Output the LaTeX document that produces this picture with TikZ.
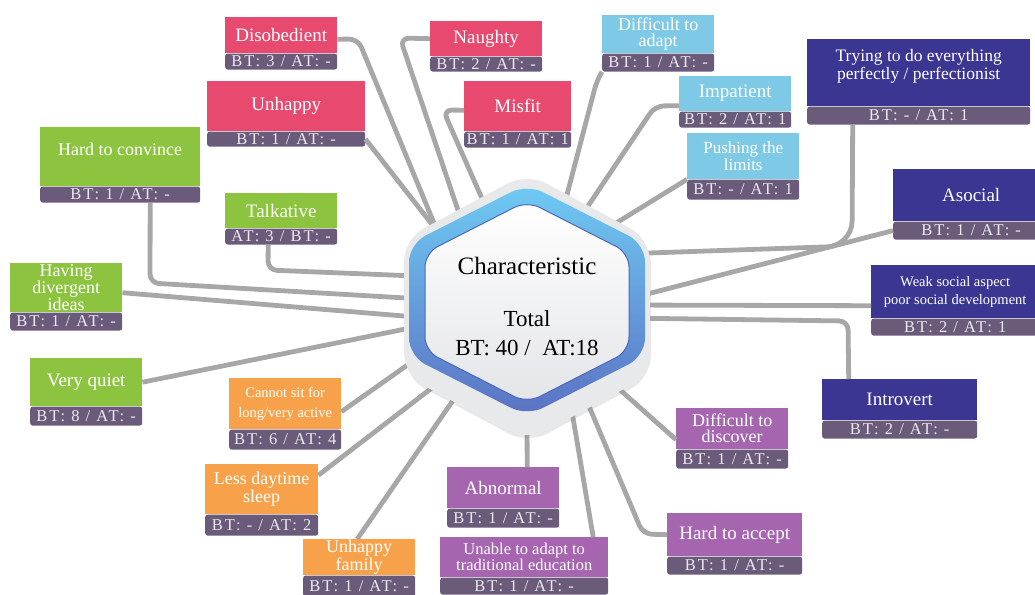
\documentclass[tikz,border=0pt]{standalone}
\usepackage{fontspec}
\setmainfont{Liberation Serif}
\newfontfamily\cardfont{Liberation Serif}
\newfontfamily\footfont[LetterSpace=12]{Liberation Serif}
\usepackage{tikz}
\usetikzlibrary{shapes,positioning,shadows,calc}
\definecolor{rosecard}{HTML}{E84A6F}
\definecolor{limecard}{HTML}{8CC43F}
\definecolor{ambercard}{HTML}{F7A24A}
\definecolor{plumcard}{HTML}{A565AF}
\definecolor{navycard}{HTML}{3C3693}
\definecolor{skycard}{HTML}{7EC9E5}
\definecolor{footgray}{HTML}{6B5B7B}
\definecolor{foottext}{HTML}{ECE8EF}
\definecolor{spokegray}{HTML}{A7A7A7}
\definecolor{halo}{HTML}{E8E9EB}
\definecolor{ringtop}{HTML}{6FCBF3}
\definecolor{ringbot}{HTML}{5A72C3}
\definecolor{ringedge}{HTML}{4A66BE}
\definecolor{innerlow}{HTML}{E4E5E8}
% rounded hexagon: centre x, centre y, half width, half height, side drop
\newcommand{\hexpath}[5]{(#1+#3,#2) -- (#1+#3,#2+#4-#5) -- (#1,#2+#4) -- (#1-#3,#2+#4-#5) -- (#1-#3,#2-#4+#5) -- (#1,#2-#4) -- (#1+#3,#2-#4+#5) -- cycle}

\begin{document}
\begin{tikzpicture}[x=1pt,y=-1pt]
        % Define styles
        \tikzstyle{cardtop} = [rectangle, anchor=north west, text=white, align=center, inner sep=1pt, font=\cardfont\fontsize{19}{16}\selectfont]
        \tikzstyle{cardfoot} = [rectangle, fill=footgray, text=foottext, inner sep=0pt, rounded corners=2.5pt, font=\footfont\fontsize{16.5}{16}\selectfont]
        \tikzstyle{spoke} = [line width=4.8pt, draw=spokegray, rounded corners=9pt]
        \tikzstyle{hubtext} = [align=center, text=black, font=\cardfont\fontsize{23}{29}\selectfont]

        \useasboundingbox (0,0) rectangle (1035,594);

        % Pink cards
        \node (dis) [cardtop, fill=rosecard, minimum width=112, minimum height=36] at (225,17) {Disobedient};
        \node (disf) [cardfoot, minimum width=112, minimum height=16, below=0pt of dis] {BT: 3 / AT: -};
        \node (nau) [cardtop, fill=rosecard, minimum width=112, minimum height=35] at (430,21) {Naughty};
        \node (nauf) [cardfoot, minimum width=112, minimum height=15, below=0pt of nau] {BT: 2 / AT: -};
        \node (mis) [cardtop, fill=rosecard, minimum width=107, minimum height=50] at (464,81) {Misfit};
        \node (misf) [cardfoot, minimum width=107, minimum height=16, below=0pt of mis] {BT: 1 / AT: 1};
        \node (unh) [cardtop, fill=rosecard, minimum width=158, minimum height=50] at (207,81) {Unhappy};
        \node (unhf) [cardfoot, minimum width=158, minimum height=15, below=0pt of unh] {BT: 1 / AT: -};

        % Green cards
        \node (hard) [cardtop, fill=limecard, minimum width=160, minimum height=59, text depth=14pt, font=\cardfont\fontsize{18}{16}\selectfont] at (40,127) {Hard to convince};
        \node (hardf) [cardfoot, minimum width=160, minimum height=16, below=0pt of hard] {BT: 1 / AT: -};
        \node (talk) [cardtop, fill=limecard, minimum width=112, minimum height=35] at (225,193) {Talkative};
        \node (talkf) [cardfoot, minimum width=112, minimum height=16, below=0pt of talk] {AT: 3 / BT: -};
        \node (div) [cardtop, fill=limecard, minimum width=112, minimum height=49, font=\cardfont\fontsize{18}{14.5}\selectfont] at (10,263) {Having\\divergent\\ideas};
        \node (divf) [cardfoot, minimum width=112, minimum height=18, below=0pt of div] {BT: 1 / AT: -};
        \node (quiet) [cardtop, fill=limecard, minimum width=112, minimum height=48] at (30,358) {Very quiet};
        \node (quietf) [cardfoot, minimum width=112, minimum height=19, below=0pt of quiet] {BT: 8 / AT: -};

        % Orange cards
        \node (sit) [cardtop, fill=ambercard, minimum width=112, minimum height=51, font=\cardfont\fontsize{14.5}{20}\selectfont] at (229,378) {Cannot sit for\\long/very active};
        \node (sitf) [cardfoot, minimum width=112, minimum height=20, below=0pt of sit] {BT: 6 / AT: 4};
        \node (sleep) [cardtop, fill=ambercard, minimum width=113, minimum height=50, font=\cardfont\fontsize{18}{15}\selectfont] at (205,464) {Less daytime\\sleep};
        \node (sleepf) [cardfoot, minimum width=113, minimum height=21, below=0pt of sleep] {BT: - / AT: 2};
        \node (fam) [cardtop, fill=ambercard, minimum width=112, minimum height=34, font=\cardfont\fontsize{18}{15}\selectfont] at (303,539) {Unhappy\\family};
        \node (famf) [cardfoot, minimum width=112, minimum height=21, below=0pt of fam] {BT: 1 / AT: -};

        % Purple cards
        \node (abn) [cardtop, fill=plumcard, minimum width=112, minimum height=41] at (447,467) {Abnormal};
        \node (abnf) [cardfoot, minimum width=112, minimum height=19, below=0pt of abn] {BT: 1 / AT: -};
        \node (trad) [cardtop, fill=plumcard, minimum width=168, minimum height=40, font=\cardfont\fontsize{16.5}{16}\selectfont] at (440,537) {Unable to adapt to\\traditional education};
        \node (tradf) [cardfoot, minimum width=168, minimum height=17, below=0pt of trad] {BT: 1 / AT: -};
        \node (disc) [cardtop, fill=plumcard, minimum width=112, minimum height=41, font=\cardfont\fontsize{18}{16}\selectfont] at (676,408) {Difficult to\\discover};
        \node (discf) [cardfoot, minimum width=112, minimum height=19, below=0pt of disc] {BT: 1 / AT: -};
        \node (acc) [cardtop, fill=plumcard, minimum width=135, minimum height=43] at (667,513) {Hard to accept};
        \node (accf) [cardfoot, minimum width=135, minimum height=18, below=0pt of acc] {BT: 1 / AT: -};

        % Navy cards
        \node (intro) [cardtop, fill=navycard, minimum width=155, minimum height=41] at (822,379) {Introvert};
        \node (introf) [cardfoot, minimum width=155, minimum height=18, below=0pt of intro] {BT: 2 / AT: -};
        \node (weak) [cardtop, fill=navycard, minimum width=168, minimum height=53, font=\cardfont\fontsize{14.5}{18}\selectfont] at (871,265) {Weak social aspect\\poor social development};
        \node (weakf) [cardfoot, minimum width=168, minimum height=17, below=0pt of weak] {BT: 2 / AT: 1};
        \node (aso) [cardtop, fill=navycard, minimum width=156, minimum height=52] at (893,169) {Asocial};
        \node (asof) [cardfoot, minimum width=156, minimum height=18, below=0pt of aso] {BT: 1 / AT: -};
        \node (perf) [cardtop, fill=navycard, minimum width=223, minimum height=67, text depth=16pt, font=\cardfont\fontsize{17.5}{18}\selectfont] at (807,39) {Trying to do everything\\perfectly / perfectionist};
        \node (perff) [cardfoot, minimum width=223, minimum height=18, below=0pt of perf] {BT: - / AT: 1};

        % Light blue cards
        \node (push) [cardtop, fill=skycard, minimum width=112, minimum height=46, font=\cardfont\fontsize{17}{15}\selectfont] at (687,133) {Pushing the\\limits};
        \node (pushf) [cardfoot, minimum width=112, minimum height=20, below=0pt of push] {BT: - / AT: 1};
        \node (imp) [cardtop, fill=skycard, minimum width=112, minimum height=35] at (679,76) {Impatient};
        \node (impf) [cardfoot, minimum width=112, minimum height=16, below=0pt of imp] {BT: 2 / AT: 1};
        \node (adapt) [cardtop, fill=skycard, minimum width=112, minimum height=38, font=\cardfont\fontsize{18}{16}\selectfont] at (602,15) {Difficult to\\adapt};
        \node (adaptf) [cardfoot, minimum width=112, minimum height=18, below=0pt of adapt] {BT: 1 / AT: -};

        % Spoke ends under the hub
        \foreach \n/\px/\py in {dis/450/262, nau/468/240, mis/495/228, unh/452/250, talk/440/277,
                hard/440/300, div/440/319, quiet/440/322, sit/440/342, sleep/450/374, fam/465/383,
                abn/527/420, trad/570/400, acc/583/392, disc/600/372, intro/620/318, weak/620/305,
                aso/620/301, perf/620/254, push/600/233, imp/580/218, adapt/563/210}
            \coordinate (e-\n) at (\px,\py);

        % Spokes
        \draw[spoke] ([yshift=-4pt]dis.east) -- (358,39) -- (e-dis);
        \draw[spoke] (nau.west) -- (400,38) -- (e-nau);
        \draw[spoke] ([yshift=-4pt]mis.west) -- (443,110) -- (e-mis);
        \draw[spoke] (unhf.east) -- (e-unh);
        \draw[spoke] ([xshift=-13pt]talkf.south) -- (268,270) -- (e-talk);
        \draw[spoke] ([xshift=30pt]hardf.south) -- (150,283) -- (e-hard);
        \draw[spoke] ([yshift=-5pt]div.east) -- (e-div);
        \draw[spoke] (quiet.east) -- (e-quiet);
        \draw[spoke] ([yshift=-8pt]sit.east) -- (e-sit);
        \draw[spoke] ([yshift=14pt]sleep.east) -- (e-sleep);
        \draw[spoke] ([xshift=-2pt]fam.north) -- (e-fam);
        \draw[spoke] ([xshift=24pt]abn.north) -- (e-abn);
        \draw[spoke] ([xshift=69pt]trad.north) -- (e-trad);
        \draw[spoke] (acc.west) -- (643,534) -- (e-acc);
        \draw[spoke] ([yshift=-11pt]disc.west) -- (e-disc);
        \draw[spoke] ([xshift=-51pt]intro.north) -- (848,321) -- (e-intro);
        \draw[spoke] ([yshift=-14pt]weak.west) -- (e-weak);
        \draw[spoke] (asof.west) -- (e-aso);
        \draw[spoke, rounded corners=25pt] ([xshift=-66pt]perff.south) -- (852,246) -- (e-perf);
        \draw[spoke] (push.south west) -- (e-push);
        \draw[spoke] ([yshift=-12pt]imp.west) -- (655,106) -- (e-imp);
        \draw[spoke] (adaptf.south west) -- (597,80) -- (e-adapt);

        % Hub
        \path[fill=halo, drop shadow={opacity=0.18, shadow xshift=1pt, shadow yshift=-3pt}, rounded corners=22pt] \hexpath{527}{307}{123}{134}{66};
        \path[top color=ringtop, bottom color=ringbot, rounded corners=18pt] \hexpath{527}{300}{118}{116}{60};
        \path[top color=white, bottom color=innerlow, draw=ringedge, line width=1pt, rounded corners=14pt] \hexpath{527}{302}{102}{101}{52};
        \node (hub) [hubtext, font=\cardfont\fontsize{25}{28}\selectfont] at (527,266) {Characteristic};
        \node (hubsum) [hubtext] at (527,333) {Total\\BT: 40 /\ \ AT:18};

\end{tikzpicture}
\end{document}
